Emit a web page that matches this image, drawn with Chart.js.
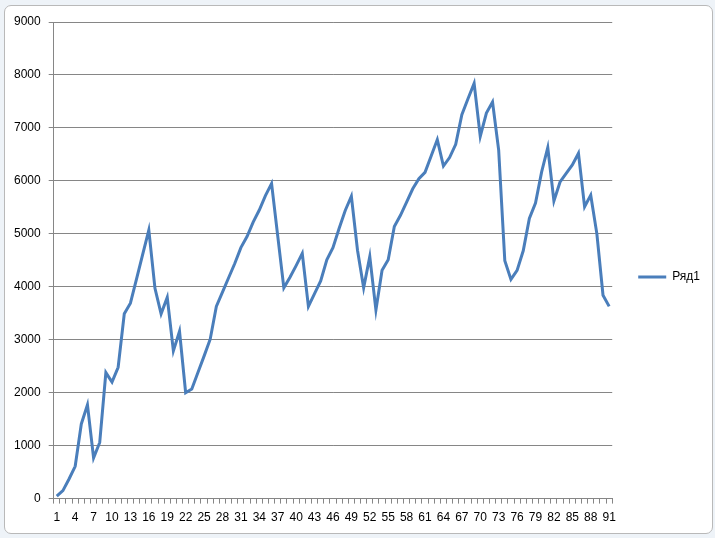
<!DOCTYPE html>
<html>
<head>
<meta charset="utf-8">
<script src="https://cdn.jsdelivr.net/npm/chart.js@4"></script>
<style>
  html, body { margin: 0; padding: 0; background: #eef3f8; }
  #frame {
    position: absolute; left: 4px; top: 5px; width: 707px; height: 527px;
    background: #fff; border: 1px solid #b9b9b9; border-radius: 7px;
  }
  #wrap { position: absolute; left: 0; top: 0; width: 715px; height: 538px; }
</style>
</head>
<body>
<div id="frame"></div>
<div id="wrap"><canvas id="chart" width="715" height="538"></canvas></div>
<script>
const SERIES_NAME = "Ряд1";

const CATEGORIES = Array.from({ length: 91 }, (_, i) => String(i + 1));

const VALUES = [
  45, 150, 370, 610, 1410, 1770, 770, 1060, 2380, 2200,
  2480, 3490, 3690, 4150, 4610, 5070, 3970, 3490, 3800, 2790,
  3160, 2000, 2070, 2380, 2690, 3010, 3630, 3900, 4170, 4440,
  4740, 4950, 5220, 5450, 5720, 5950, 4960, 3980, 4180, 4400,
  4630, 3630, 3870, 4110, 4510, 4740, 5100, 5440, 5710, 4690,
  3980, 4570, 3560, 4310, 4510, 5140, 5350, 5600, 5850, 6040,
  6160, 6470, 6780, 6280, 6440, 6690, 7250, 7550, 7840, 6840,
  7280, 7490, 6580, 4490, 4140, 4310, 4680, 5290, 5580, 6170,
  6630, 5620, 5980, 6140, 6300, 6520, 5510, 5730, 5000, 3840,
  3630,
];

const Y_MIN = 0;
const Y_MAX = 9000;
const Y_STEP = 1000;

const LINE_COLOR = "#4a7ebb";
const GRID_COLOR = "#868686";

new Chart(document.getElementById("chart"), {
  type: "line",
  data: {
    labels: CATEGORIES,
    datasets: [
      {
        label: SERIES_NAME,
        data: VALUES,
        borderColor: LINE_COLOR,
        backgroundColor: LINE_COLOR,
        borderWidth: 3,
        pointRadius: 0,
        tension: 0,
      },
    ],
  },
  options: {
    responsive: false,
    animation: false,
    layout: { padding: { top: 22, left: 6, right: 5, bottom: 6 } },
    plugins: {
      tooltip: { enabled: false },
      legend: {
        position: "right",
        labels: {
          usePointStyle: true,
          pointStyle: "line",
          pointStyleWidth: 28,
          boxWidth: 28,
          color: "#000",
          font: { family: "Liberation Sans", size: 12 },
          padding: 26,
        },
      },
    },
    scales: {
      x: {
        offset: true,
        grid: {
          offset: true,
          drawOnChartArea: false,
          color: GRID_COLOR,
          tickLength: 5,
        },
        border: { color: GRID_COLOR },
        ticks: {
          autoSkip: false,
          maxRotation: 0,
          minRotation: 0,
          color: "#000",
          font: { family: "Liberation Sans", size: 12 },
          padding: 7,
          callback: (_, idx) => (idx % 3 === 0 ? CATEGORIES[idx] : ""),
        },
      },
      y: {
        min: Y_MIN,
        max: Y_MAX,
        grid: { color: GRID_COLOR, tickLength: 5 },
        border: { color: GRID_COLOR },
        ticks: {
          stepSize: Y_STEP,
          color: "#000",
          font: { family: "Liberation Sans", size: 12 },
          padding: 8,
          callback: (v) => String(v),
        },
      },
    },
  },
});
</script>
</body>
</html>
